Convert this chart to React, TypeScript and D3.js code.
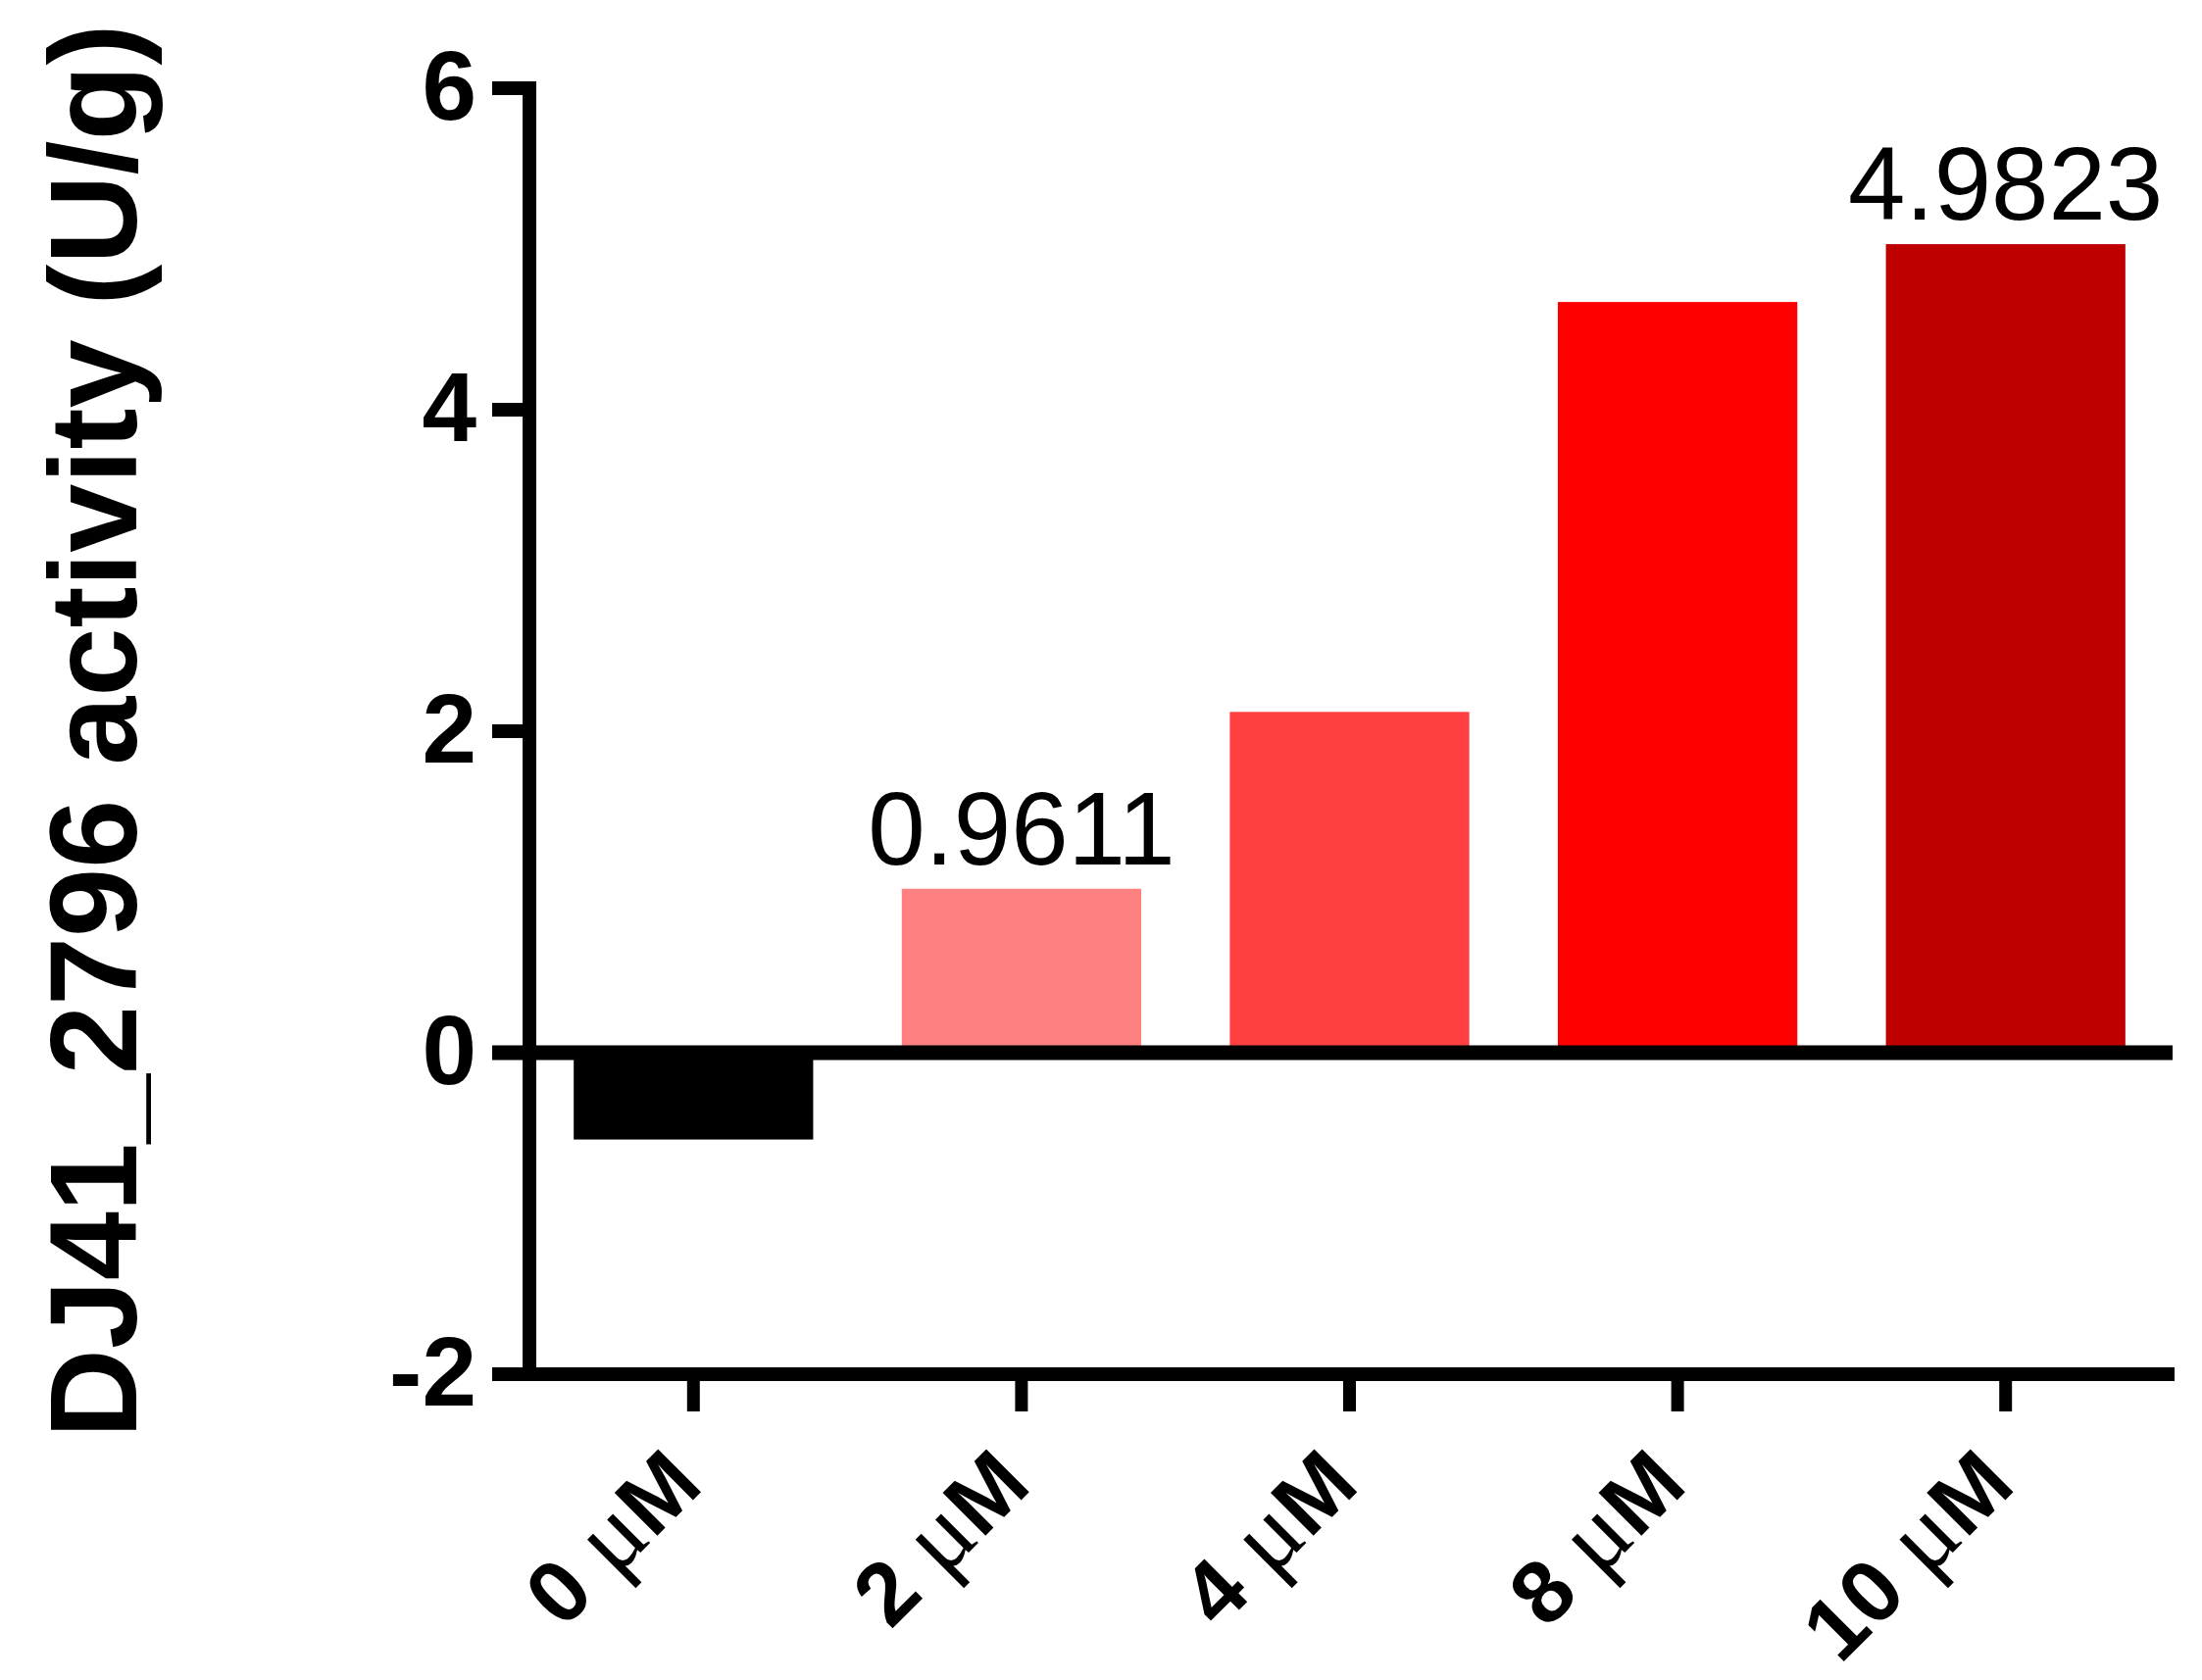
import React from "react";
import * as d3 from "d3";

const categories = ["0", "2", "4", "8", "10"];
const values = [-0.54, 1.02, 2.12, 4.67, 5.03];
const colors = ["#000000", "#FF8080", "#FF4040", "#FF0000", "#BF0000"];
const valueLabels = ["", "0.9611", "", "", "4.9823"];
const yTicks = [-2, 0, 2, 4, 6];
const yTitle = "DJ41_2796 activity (U/g)";

const W = 2246;
const H = 1714;
const SANS = "'Liberation Sans', Arial, Helvetica, sans-serif";
const SERIF = "'Liberation Serif', 'Times New Roman', serif";

export default function App() {
  const y = d3.scaleLinear().domain([-2, 6]).range([1402, 90]);
  const x = d3
    .scaleBand<string>()
    .domain(categories)
    .range([540, 2213])
    .paddingInner(0.27)
    .paddingOuter(0.135);
  const axisX = 540;
  const tickLeft = 502;
  const right = 2216;

  return (
    <svg
      width={W}
      height={H}
      viewBox={`0 0 ${W} ${H}`}
      style={{ position: "absolute", left: 0, top: 0, background: "#fff" }}
    >
      <rect x={0} y={0} width={W} height={H} fill="#fff" />
      {/* bars */}
      {categories.map((c, i) => {
        const v = values[i];
        const y0 = y(0);
        const y1 = y(v);
        return (
          <rect
            key={c}
            x={x(c)}
            y={Math.min(y0, y1)}
            width={x.bandwidth()}
            height={Math.abs(y1 - y0)}
            fill={colors[i]}
          />
        );
      })}
      {/* value labels */}
      {categories.map((c, i) =>
        valueLabels[i] ? (
          <text
            key={"vl" + c}
            x={(x(c) as number) + x.bandwidth() / 2}
            y={y(values[i]) - 25}
            textAnchor="middle"
            fontFamily={SANS}
            fontSize={105}
            fill="#000"
          >
            {valueLabels[i]}
          </text>
        ) : null
      )}
      {/* zero line */}
      <line x1={tickLeft} x2={right} y1={y(0)} y2={y(0)} stroke="#000" strokeWidth={15} />
      {/* bottom axis line */}
      <line x1={tickLeft} x2={right + 2} y1={y(-2)} y2={y(-2)} stroke="#000" strokeWidth={14} />
      {/* y axis line */}
      <line x1={axisX} x2={axisX} y1={y(6) - 7} y2={y(-2) + 7} stroke="#000" strokeWidth={14} />
      {/* y ticks */}
      {yTicks.map((t) => (
        <g key={"yt" + t}>
          <line x1={tickLeft} x2={axisX} y1={y(t)} y2={y(t)} stroke="#000" strokeWidth={14} />
          <text
            x={486}
            y={y(t) - 4}
            dy="0.36em"
            textAnchor="end"
            fontFamily={SANS}
            fontWeight="bold"
            fontSize={100}
            fill="#000"
          >
            {t}
          </text>
        </g>
      ))}
      {/* x ticks and labels */}
      {categories.map((c) => {
        const cx = (x(c) as number) + x.bandwidth() / 2;
        return (
          <g key={"xt" + c}>
            <line x1={cx} x2={cx} y1={y(-2)} y2={y(-2) + 38} stroke="#000" strokeWidth={13} />
            <text
              transform={`translate(${cx + 12},1518) rotate(-45)`}
              textAnchor="end"
              fontFamily={SANS}
              fontWeight="bold"
              fontSize={90}
              fill="#000"
            >
              <tspan>{c + " "}</tspan>
              <tspan fontFamily={SERIF} fontWeight="normal" fontSize={104}>μ</tspan>
              <tspan>M</tspan>
            </text>
          </g>
        );
      })}
      {/* y title */}
      <text
        transform={`translate(139,746) rotate(-90)`}
        textAnchor="middle"
        fontFamily={SANS}
        fontWeight="bold"
        fontSize={126}
        fill="#000"
      >
        {yTitle}
      </text>
    </svg>
  );
}
